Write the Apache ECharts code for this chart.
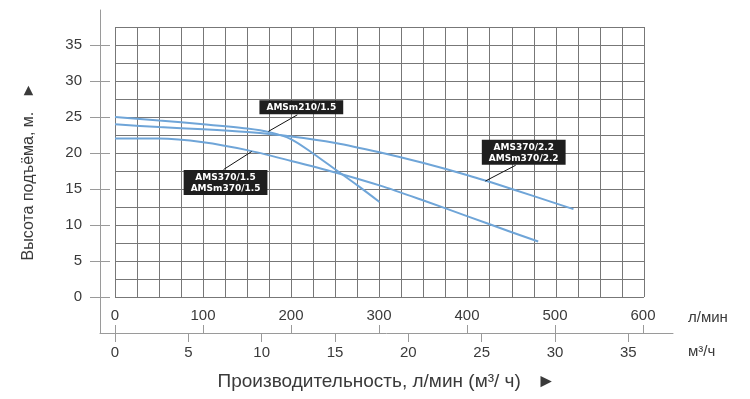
<!DOCTYPE html>
<html>
<head>
<meta charset="utf-8">
<script src="https://cdn.jsdelivr.net/npm/echarts@6/dist/echarts.min.js"></script>
<style>
html,body{margin:0;padding:0;background:#fff;}
#chart{width:750px;height:399px;}
</style>
</head>
<body>
<div id="chart"></div>
<script>
// напорные характеристики насосов, Q л/мин -> H м
var q210 = [0, 50, 100, 150, 175, 200, 225, 250, 275, 300];
var h210 = [25.0, 24.5, 24.0, 23.4, 22.9, 21.9, 19.9, 17.7, 15.5, 13.2];
var q370_15 = [0, 50, 100, 150, 200, 250, 300, 350, 400, 450, 480];
var h370_15 = [22.0, 22.0, 21.5, 20.4, 18.9, 17.3, 15.5, 13.4, 11.2, 9.0, 7.7];
var q370_22 = [0, 50, 100, 150, 200, 250, 300, 350, 400, 450, 500, 520];
var h370_22 = [24.0, 23.6, 23.3, 22.9, 22.3, 21.4, 20.1, 18.6, 16.9, 15.0, 13.0, 12.2];

// подписи и точки на кривых, куда идут выноски
var calloutNames = ['AMSm210/1.5', 'AMS370/1.5\nAMSm370/1.5', 'AMS370/2.2\nAMSm370/2.2'];
var calloutAnchors = [[174, 23.0], [155, 20.2], [420, 16.1]];

// оси
var lminTicks = [0, 100, 200, 300, 400, 500, 600];
var m3hTicks = [0, 5, 10, 15, 20, 25, 30, 35];
var headTicks = [0, 5, 10, 15, 20, 25, 30, 35];
var LMIN_PER_M3H = 1000 / 60;

// где стоят плашки (в единицах графика) и куда сдвигаются
var calloutEnds = [[206.8, 25.3], [123.1, 17.7], [454.5, 18.3]];
var calloutPos = ['top', 'bottom', 'top'];
var calloutShift = [[4, 0], [2, 0], [8, 0]];

var FONT = '"Liberation Sans", Arial, sans-serif';
var LINE_COLOR = '#6fa5d8';
var AXIS_COLOR = '#9a9a9a';
var TXT = '#3a3a3a';

function zip(xs, ys) {
	var out = [];
	for (var i = 0; i < xs.length; i++) {
		out.push([xs[i], ys[i]]);
	}
	return out;
}

// внешняя рамка осей: 0 л/мин на x=115, 0 м на y=297
var outerXMin = -15 / 0.88;
var outerXMax = (673 - 115) / 0.88;
var outerYMin = -36 / 7.2;
var outerYMax = (297 - 10) / 7.2;

var series = [];
var curves = [[q210, h210], [q370_15, h370_15], [q370_22, h370_22]];
for (var i = 0; i < curves.length; i++) {
	series.push({
		type: 'line',
		xAxisIndex: 0,
		yAxisIndex: 0,
		data: zip(curves[i][0], curves[i][1]),
		smooth: 0.3,
		showSymbol: false,
		lineStyle: { color: LINE_COLOR, width: 2 },
		z: 3
	});
}
for (var j = 0; j < calloutNames.length; j++) {
	series.push({
		type: 'line',
		xAxisIndex: 0,
		yAxisIndex: 0,
		symbol: 'circle',
		symbolSize: 1,
		itemStyle: { color: 'transparent' },
		lineStyle: { color: '#111', width: 1 },
		data: [
			{ value: calloutAnchors[j] },
			{
				value: calloutEnds[j],
				label: {
					show: true,
					position: calloutPos[j],
					distance: 0,
					offset: calloutShift[j],
					formatter: calloutNames[j],
					color: '#fff',
					backgroundColor: '#1e1e1e',
					fontFamily: '"DejaVu Sans", Verdana, sans-serif',
					fontWeight: 'bold',
					fontSize: 9,
					lineHeight: 11,
					align: 'center',
					padding: [2, 7, 1, 7]
				}
			}
		],
		z: 5
	});
}

var chart = echarts.init(document.getElementById('chart'));
chart.setOption({
	animation: false,
	backgroundColor: '#fff',
	grid: [
		{ left: 115, top: 27, right: 106, bottom: 102 },
		{ left: 100, top: 10, right: 77, bottom: 66 }
	],
	xAxis: [
		{
			gridIndex: 0, type: 'value', min: 0, max: 600, interval: 25,
			axisLine: { show: false }, axisTick: { show: false }, axisLabel: { show: false },
			splitLine: { show: true, lineStyle: { color: '#777', width: 1 } }
		},
		{
			gridIndex: 1, type: 'value', position: 'bottom', min: outerXMin, max: outerXMax,
			axisLine: { show: true, onZero: false, lineStyle: { color: AXIS_COLOR, width: 1 } },
			axisTick: { show: true, inside: true, length: 8, customValues: lminTicks, lineStyle: { color: AXIS_COLOR } },
			axisLabel: { show: true, inside: true, margin: 10, customValues: lminTicks, color: TXT, fontSize: 15, fontFamily: FONT },
			splitLine: { show: false },
			name: 'л/мин', nameLocation: 'end', nameGap: 15,
			nameTextStyle: { color: TXT, fontSize: 15, fontFamily: FONT, align: 'left', verticalAlign: 'bottom', lineHeight: 31 }
		},
		{
			gridIndex: 1, type: 'value', position: 'bottom',
			min: outerXMin / LMIN_PER_M3H, max: outerXMax / LMIN_PER_M3H,
			axisLine: { show: false, onZero: false },
			axisTick: { show: true, inside: false, length: 9, customValues: m3hTicks, lineStyle: { color: AXIS_COLOR } },
			axisLabel: { show: true, margin: 12, customValues: m3hTicks, color: TXT, fontSize: 15, fontFamily: FONT },
			splitLine: { show: false },
			name: 'м³/ч', nameLocation: 'end', nameGap: 15,
			nameTextStyle: { color: TXT, fontSize: 15, fontFamily: FONT, align: 'left', verticalAlign: 'top', lineHeight: 38 }
		},
		{
			gridIndex: 1, type: 'value', position: 'bottom', min: 0, max: 1,
			axisLine: { show: false, onZero: false }, axisTick: { show: false }, axisLabel: { show: false }, splitLine: { show: false },
			name: 'Производительность, л/мин (м³/ ч)   ►', nameLocation: 'middle', nameGap: 39,
			nameTextStyle: { color: TXT, fontSize: 19, fontFamily: FONT }
		}
	],
	yAxis: [
		{
			gridIndex: 0, type: 'value', min: 0, max: 37.5, interval: 2.5,
			axisLine: { show: false }, axisTick: { show: false }, axisLabel: { show: false },
			splitLine: { show: true, lineStyle: { color: '#777', width: 1 } }
		},
		{
			gridIndex: 1, type: 'value', position: 'left', min: outerYMin, max: outerYMax,
			axisLine: { show: true, onZero: false, lineStyle: { color: AXIS_COLOR, width: 1 } },
			axisTick: { show: true, inside: false, length: 10, customValues: headTicks, lineStyle: { color: AXIS_COLOR } },
			axisLabel: { show: true, margin: 18, customValues: headTicks, color: TXT, fontSize: 15, fontFamily: FONT },
			splitLine: { show: false },
			name: 'Высота подъёма, м.   ►', nameLocation: 'middle', nameRotate: 90, nameGap: 63,
			nameTextStyle: { color: TXT, fontSize: 16, fontFamily: FONT }
		},
		{
			gridIndex: 1, type: 'value', position: 'left', min: outerYMin, max: outerYMax,
			axisLine: { show: false, onZero: false },
			axisTick: { show: true, inside: true, length: 10, customValues: headTicks, lineStyle: { color: AXIS_COLOR } },
			axisLabel: { show: false },
			splitLine: { show: false }
		}
	],
	series: series
});
</script>
</body>
</html>
